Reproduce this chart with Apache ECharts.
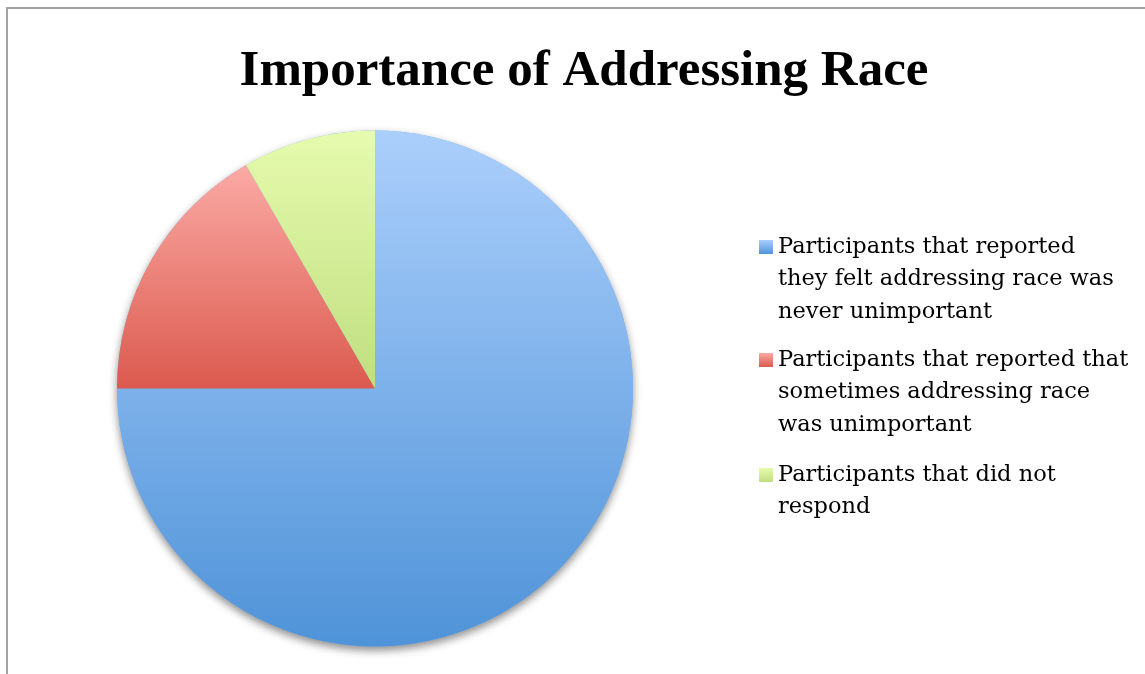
<!DOCTYPE html>
<html>
<head>
<meta charset="utf-8">
<script src="https://cdn.jsdelivr.net/npm/echarts@6/dist/echarts.min.js"></script>
<style>
html,body{margin:0;padding:0;background:#fff;}
#frame{position:absolute;left:6px;top:7px;width:1145px;height:674px;border-left:2px solid #a3a3a3;border-top:2px solid #a3a3a3;box-sizing:border-box;pointer-events:none;z-index:2;}
#chart{position:absolute;left:0;top:0;width:1145px;height:674px;}
</style>
</head>
<body>
<div id="chart"></div>
<div id="frame"></div>
<script>
const titleText = 'Importance of Addressing Race';
const categories = [
  'Participants that reported they felt addressing race was never unimportant',
  'Participants that reported that sometimes addressing race was unimportant',
  'Participants that did not respond'
];
const legendLines = [
  ['Participants that reported', 'they felt addressing race was', 'never unimportant'],
  ['Participants that reported that', 'sometimes addressing race', 'was unimportant'],
  ['Participants that did not', 'respond']
];
const values = [9, 2, 1];
const topColors = ['#abcffc', '#fbaaa5', '#e6fbae'];
const bottomColors = ['#4f93d8', '#db5a4e', '#c0de80'];

const LH = 32.5;
const legendTops = [165.75, 278.75, 426.25];

const grad = (i) => new echarts.graphic.LinearGradient(0, 0, 0, 1, [
  {offset: 0, color: topColors[i]}, {offset: 1, color: bottomColors[i]}
]);

const chart = echarts.init(document.getElementById('chart'), null, {renderer: 'canvas'});
const total = values.reduce((a, b) => a + b, 0);

const legends = categories.map((name, i) => {
  const lines = legendLines[i];
  const text = '\n'.repeat(lines.length - 1) + lines.join('\n');
  return {
    show: true,
    orient: 'vertical',
    left: 759,
    top: legendTops[i],
    padding: 0,
    itemWidth: 14,
    itemHeight: 14,
    icon: 'rect',
    selectedMode: false,
    data: [name],
    formatter: () => text,
    textStyle: {
      fontFamily: 'DejaVu Serif',
      fontSize: 22.5,
      color: '#000',
      lineHeight: LH
    }
  };
});

chart.setOption({
  animation: false,
  title: {
    text: titleText,
    left: 579, top: 41,
    textAlign: 'center',
    textStyle: {fontFamily: 'Liberation Serif', fontWeight: 'bold', fontSize: 51, color: '#000'}
  },
  legend: legends,
  series: [
    {
      type: 'pie',
      silent: true,
      center: [375, 388.5],
      radius: 258,
      startAngle: 90,
      label: {show: false},
      labelLine: {show: false},
      z: 1,
      itemStyle: {color: '#7db1ea', shadowBlur: 8, shadowOffsetY: 4, shadowColor: 'rgba(0,0,0,0.45)'},
      data: [{value: total, name: '_shadow'}]
    },
    {
      type: 'pie',
      center: [375, 388.5],
      radius: 258,
      startAngle: 90,
      clockwise: true,
      z: 2,
      label: {show: false},
      labelLine: {show: false},
      emphasis: {disabled: true},
      data: categories.map((name, i) => ({
        name, value: values[i],
        itemStyle: {color: grad(i), borderWidth: 0}
      }))
    }
  ]
});
</script>
</body>
</html>
